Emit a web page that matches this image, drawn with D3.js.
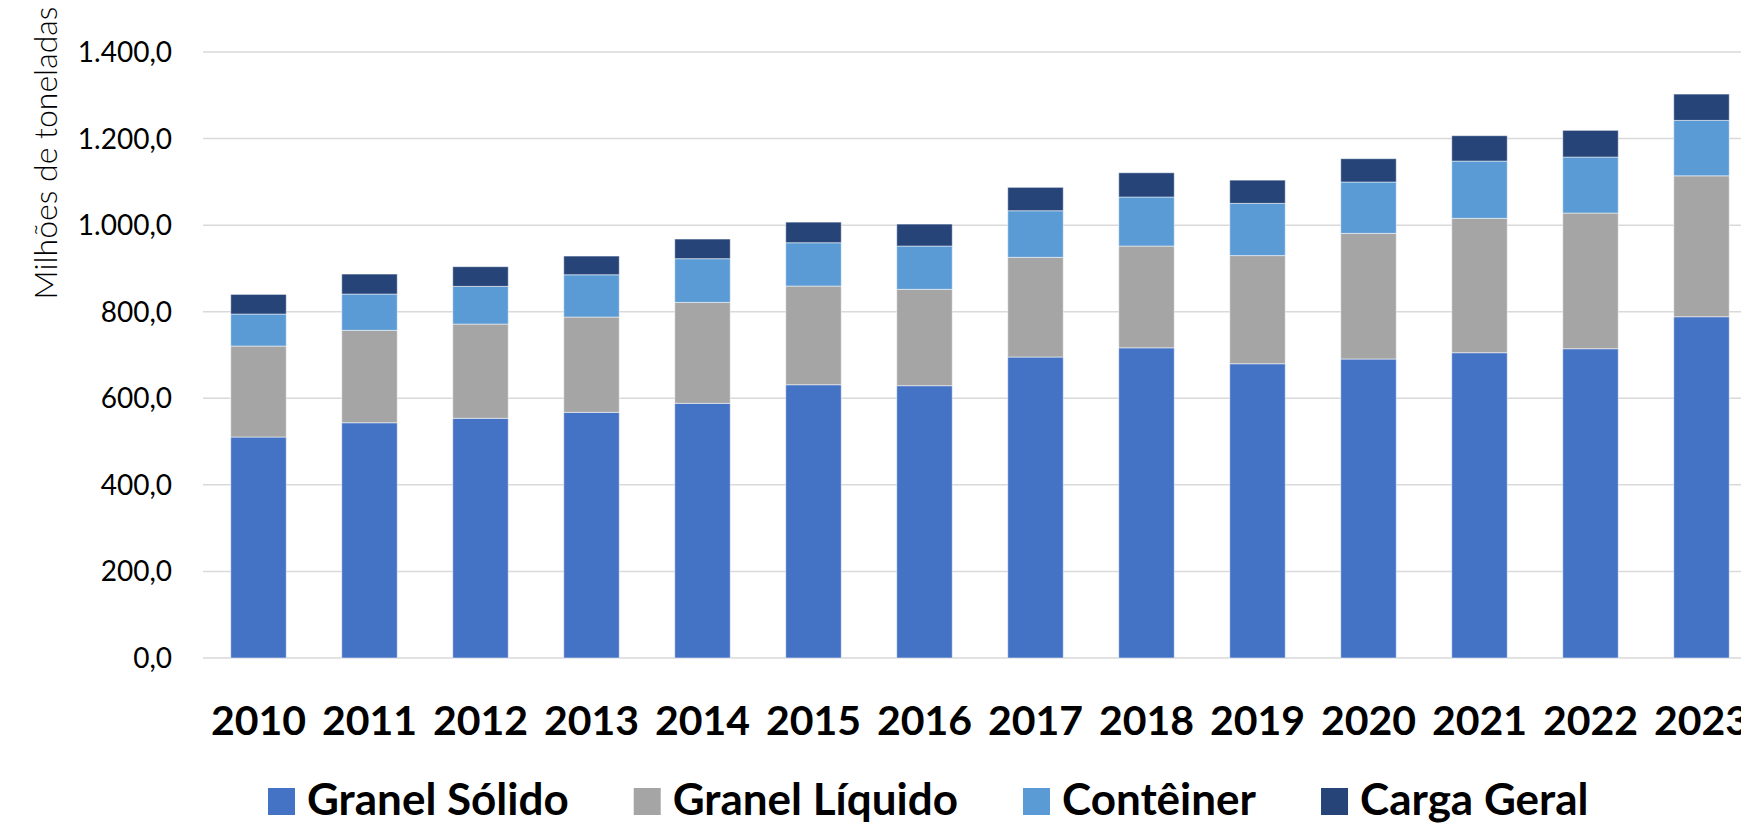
<!DOCTYPE html>
<html>
<head>
<meta charset="utf-8">
<script src="https://cdn.jsdelivr.net/npm/d3@7"></script>
<style>
  body { margin: 0; background: #fff; }
  svg { display: block; font-family: Lato, "Open Sans", sans-serif; }
</style>
</head>
<body>
<script>
// anos e series (milhoes de toneladas)
const years = ['2010', '2011', '2012', '2013', '2014', '2015', '2016', '2017', '2018', '2019', '2020', '2021', '2022', '2023']
const granelSolido = [510.5, 543.5, 553.7, 567.5, 588.3, 631.3, 629.1, 695.3, 716.6, 679.8, 690.7, 705.3, 714.5, 788.4]
const granelLiquido = [210.2, 213.5, 217.8, 220.2, 233.3, 228.0, 222.6, 230.3, 235.1, 249.9, 290.3, 310.4, 313.5, 325.6]
const conteiner = [73.9, 83.8, 87.1, 97.7, 100.9, 100.1, 100.0, 107.7, 113.3, 120.6, 118.6, 132.3, 129.3, 128.0]
const cargaGeral = [45.4, 46.2, 45.4, 43.2, 45.4, 47.6, 50.8, 54.0, 56.0, 53.7, 53.9, 58.6, 61.7, 60.8]
const seriesNames = ['Granel Sólido', 'Granel Líquido', 'Contêiner', 'Carga Geral']
const seriesColors = ['#4472C4', '#A5A5A5', '#5B9BD5', '#264478']
const yTicks = [0, 200, 400, 600, 800, 1000, 1200, 1400]

const W = 1741, H = 824
const plot = { left: 203, top: 52, bottom: 658 }

const rows = years.map((y, i) => ({
  year: y,
  'Granel Sólido': granelSolido[i],
  'Granel Líquido': granelLiquido[i],
  'Contêiner': conteiner[i],
  'Carga Geral': cargaGeral[i]
}))

const svg = d3.select('body').append('svg')
  .attr('width', W)
  .attr('height', H)

const x = d3.scaleBand()
  .domain(years)
  .range([plot.left, plot.left + 111 * 14])
  .paddingInner(0.5)
  .paddingOuter(0.25)

const y = d3.scaleLinear()
  .domain([0, 1400])
  .range([plot.bottom, plot.top])

const fmt = v => d3.format(',.1f')(v).replace(/,/g, '#').replace('.', ',').replace(/#/g, '.')

// grid
svg.append('g')
  .selectAll('line')
  .data(yTicks)
  .enter().append('line')
  .attr('x1', plot.left)
  .attr('x2', W)
  .attr('y1', d => y(d))
  .attr('y2', d => y(d))
  .attr('stroke', '#D9D9D9')
  .attr('stroke-width', 1.5)

// y labels
svg.append('g')
  .selectAll('text')
  .data(yTicks)
  .enter().append('text')
  .attr('x', 172)
  .attr('y', d => y(d) + 10)
  .attr('text-anchor', 'end')
  .attr('font-size', 28)
  .attr('fill', '#000')
  .text(fmt)

svg.append('text')
  .attr('transform', 'translate(57,153) rotate(-90)')
  .attr('text-anchor', 'middle')
  .attr('font-size', 32)
  .attr('font-weight', 300)
  .attr('fill', '#000')
  .text('Milhões de toneladas')

// bars
const stacked = d3.stack().keys(seriesNames)(rows)

svg.append('g')
  .selectAll('g')
  .data(stacked)
  .enter().append('g')
  .attr('fill', (d, i) => seriesColors[i])
  .selectAll('rect')
  .data(d => d)
  .enter().append('rect')
  .attr('x', d => x(d.data.year))
  .attr('width', x.bandwidth())
  .attr('y', d => y(d[1]))
  .attr('height', d => y(d[0]) - y(d[1]))
  .attr('stroke', '#fff')
  .attr('stroke-opacity', 0.5)
  .attr('stroke-width', 1)

// x labels
svg.append('g')
  .selectAll('text')
  .data(years)
  .enter().append('text')
  .attr('x', d => x(d) + x.bandwidth() / 2)
  .attr('y', 735)
  .attr('text-anchor', 'middle')
  .attr('font-size', 41)
  .attr('font-weight', 700)
  .attr('fill', '#000')
  .text(d => d)

// legend
const legend = svg.append('g')
let lx = 268
seriesNames.forEach((name, i) => {
  const item = legend.append('g').attr('transform', `translate(${lx},0)`)
  item.append('rect')
    .attr('x', 0)
    .attr('y', 788)
    .attr('width', 27)
    .attr('height', 27)
    .attr('fill', seriesColors[i])
  const t = item.append('text')
    .attr('x', 39)
    .attr('y', 815)
    .attr('font-size', 44)
    .attr('font-weight', 700)
    .attr('fill', '#000')
    .text(name)
  lx += 39 + t.node().getComputedTextLength() + 65
})
</script>
</body>
</html>
